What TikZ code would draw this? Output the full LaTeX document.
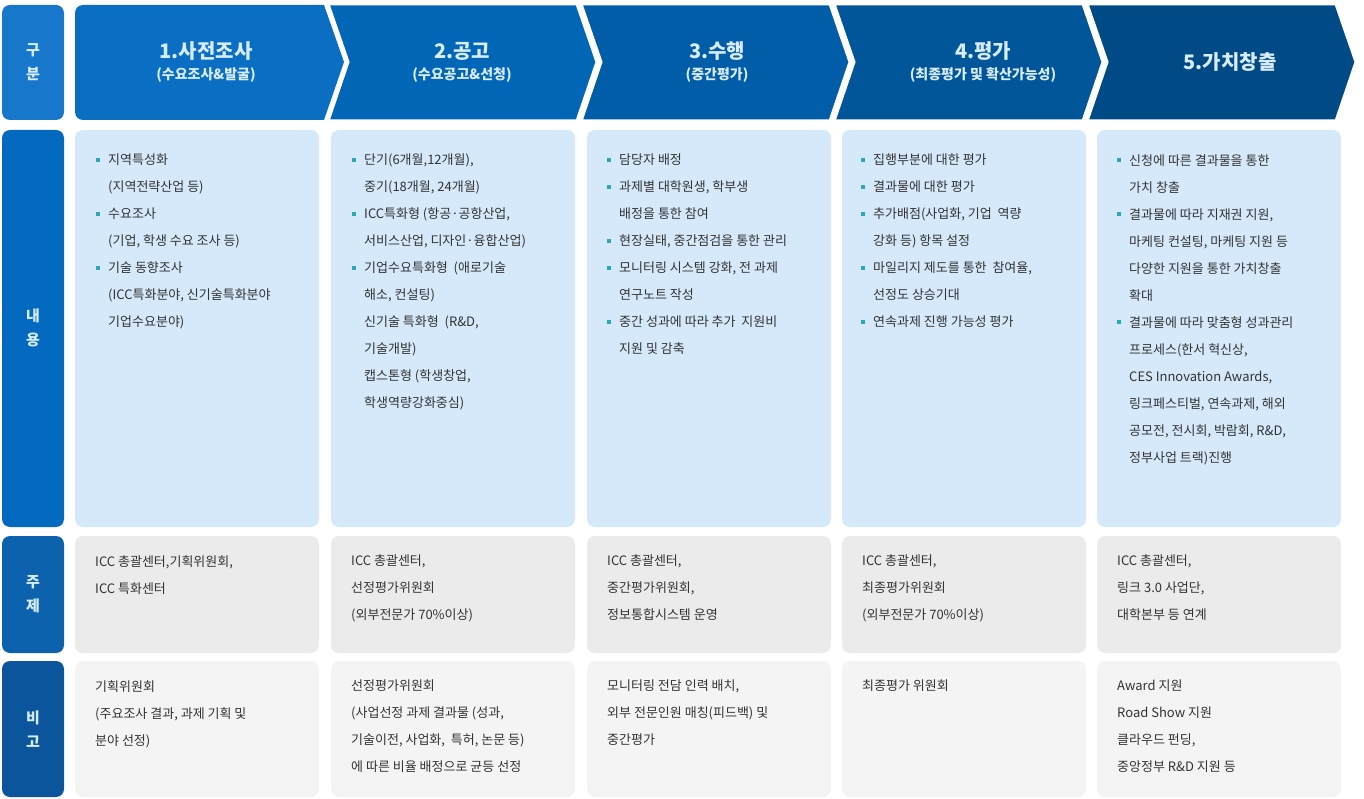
\documentclass[tikz,border=0pt]{standalone}
\usepackage{fontspec}
\setmainfont{Noto Sans CJK KR}
\definecolor{headA}{HTML}{0A6EC2}
\definecolor{headB}{HTML}{0266B6}
\definecolor{headC}{HTML}{015DA8}
\definecolor{headD}{HTML}{015599}
\definecolor{headE}{HTML}{004B86}
\definecolor{sideA}{HTML}{1677CB}
\definecolor{sideB}{HTML}{036ABF}
\definecolor{sideC}{HTML}{0D62AE}
\definecolor{sideD}{HTML}{0A559B}
\definecolor{bodyblue}{HTML}{D5E9FA}
\definecolor{bodygray}{HTML}{EBEBEB}
\definecolor{notegray}{HTML}{F4F4F4}
\definecolor{bullet}{HTML}{2AA8B8}
\definecolor{bodytext}{HTML}{333333}
\definecolor{headtext}{HTML}{D8ECFF}
\newcommand{\itm}{\makebox[0pt][r]{\textcolor{bullet}{\rule[3pt]{4pt}{4pt}}\hspace{8pt}}}
\tikzset{
  sidecell/.style={text=headtext, font=\fontsize{15}{24}\selectfont\bfseries, align=center},
  cell/.style={rounded corners=8pt},
  cont/.style={anchor=north west, inner sep=0pt, align=left, text=bodytext,
    font=\fontsize{13}{27}\selectfont},
  chev/.style={draw=white, line width=3pt, line join=miter},
  headlabel/.style={text=headtext, align=center, font=\fontsize{14}{21}\selectfont\bfseries}
}
\begin{document}
\begin{tikzpicture}[x=1pt,y=-1pt]
  \useasboundingbox (0,0) rectangle (1364,799);

  % left column
  \fill[sideA, rounded corners=8pt] (2,5) rectangle (64,120);
  \fill[sideB, rounded corners=8pt] (2,130) rectangle (64,527);
  \fill[sideC, rounded corners=8pt] (2,536) rectangle (64,653);
  \fill[sideD, rounded corners=8pt] (2,661) rectangle (64,797);
  \node[sidecell] (gubun) at (33,62) {구\\분};
  \node[sidecell] (naeyong) at (33,328) {내\\용};
  \node[sidecell] (juje) at (33,594) {주\\제};
  \node[sidecell] (bigo) at (33,729) {비\\고};

  % header chevrons
  \fill[headA] (324,5) [rounded corners=8pt] -- (75,5) -- (75,120) [sharp corners] -- (324,120) -- (344,62) -- cycle;
  \filldraw[headB, chev] (328,4) -- (577,4) -- (597,62) -- (577,121) -- (328,121) -- (348,62) -- cycle;
  \filldraw[headC, chev] (581,4) -- (830,4) -- (850,62) -- (830,121) -- (581,121) -- (601,62) -- cycle;
  \filldraw[headD, chev] (834,4) -- (1083,4) -- (1103,62) -- (1083,121) -- (834,121) -- (854,62) -- cycle;
  \filldraw[headE, chev] (1087,4) -- (1336,4) -- (1356,62) -- (1336,121) -- (1087,121) -- (1107,62) -- cycle;
  \fill[white] (1338,0) -- (1364,0) -- (1364,125) -- (1338,125) -- (1358,62) -- cycle;

  \node[headlabel] (h1) at (206,62) {{\fontsize{20}{26}\selectfont 1.사전조사}\\(수요조사\&발굴)};
  \node[headlabel] (h2) at (462,62) {{\fontsize{20}{26}\selectfont 2.공고}\\(수요공고\&선청)};
  \node[headlabel] (h3) at (717,62) {{\fontsize{20}{26}\selectfont 3.수행}\\(중간평가)};
  \node[headlabel] (h4) at (983,62) {{\fontsize{20}{26}\selectfont 4.평가}\\(최종평가 및 확산가능성)};
  \node[headlabel] (h5) at (1230,62) {{\fontsize{20}{26}\selectfont 5.가치창출}};

  % body cells
  \foreach \x in {75,331,587,842,1097} {
    \fill[bodyblue, cell] (\x,130) rectangle ++(244,397);
    \fill[bodygray, cell] (\x,536) rectangle ++(244,117);
    \fill[notegray, cell] (\x,661) rectangle ++(244,136);
  }

  % content
  \node[cont] (c1) at (108,154) {\itm 지역특성화\\(지역전략산업 등)\\\itm 수요조사\\(기업, 학생 수요 조사 등)\\\itm 기술 동향조사\\(ICC특화분야, 신기술특화분야\\기업수요분야)};
  \node[cont] (c2) at (364,154) {\itm 단기(6개월,12개월),\\중기(18개월, 24개월)\\\itm ICC특화형 (항공·공항산업,\\서비스산업, 디자인·융합산업)\\\itm 기업수요특화형 \ (애로기술\\해소, 컨설팅)\\신기술 특화형 \ (R\&D,\\기술개발)\\캡스톤형 (학생창업,\\학생역량강화중심)};
  \node[cont] (c3) at (619,154) {\itm 담당자 배정\\\itm 과제별 대학원생, 학부생\\배정을 통한 참여\\\itm 현장실태, 중간점검을 통한 관리\\\itm 모니터링 시스템 강화, 전 과제\\연구노트 작성\\\itm 중간 성과에 따라 추가 \ 지원비\\지원 및 감축};
  \node[cont] (c4) at (873,154) {\itm 집행부분에 대한 평가\\\itm 결과물에 대한 평가\\\itm 추가배점(사업화, 기업 \ 역량\\강화 등) 항목 설정\\\itm 마일리지 제도를 통한 \ 참여율,\\선정도 상승기대\\\itm 연속과제 진행 가능성 평가};
  \node[cont] (c5) at (1129,154) {\itm 신청에 따른 결과물을 통한\\가치 창출\\\itm 결과물에 따라 지재권 지원,\\마케팅 컨설팅, 마케팅 지원 등\\다양한 지원을 통한 가치창출\\확대\\\itm 결과물에 따라 맞춤형 성과관리\\프로세스(한서 혁신상,\\CES Innovation Awards,\\링크페스티벌, 연속과제, 해외\\공모전, 전시회, 박람회, R\&D,\\정부사업 트랙)진행};

  % subjects
  \node[cont] (s1) at (95,555) {ICC 총괄센터,기획위원회,\\ICC 특화센터};
  \node[cont] (s2) at (351,555) {ICC 총괄센터,\\선정평가위원회\\(외부전문가 70\%이상)};
  \node[cont] (s3) at (607,555) {ICC 총괄센터,\\중간평가위원회,\\정보통합시스템 운영};
  \node[cont] (s4) at (862,555) {ICC 총괄센터,\\최종평가위원회\\(외부전문가 70\%이상)};
  \node[cont] (s5) at (1117,555) {ICC 총괄센터,\\링크 3.0 사업단,\\대학본부 등 연계};

  % notes
  \node[cont] (n1) at (95,680) {기획위원회\\(주요조사 결과, 과제 기획 및\\분야 선정)};
  \node[cont] (n2) at (351,680) {선정평가위원회\\(사업선정 과제 결과물 (성과,\\기술이전, 사업화, \ 특허, 논문 등)\\에 따른 비율 배정으로 균등 선정};
  \node[cont] (n3) at (607,680) {모니터링 전담 인력 배치,\\외부 전문인원 매칭(피드백) 및\\중간평가};
  \node[cont] (n4) at (862,680) {최종평가 위원회};
  \node[cont] (n5) at (1117,680) {Award 지원\\Road Show 지원\\클라우드 펀딩,\\중앙정부 R\&D 지원 등};
\end{tikzpicture}
\end{document}
